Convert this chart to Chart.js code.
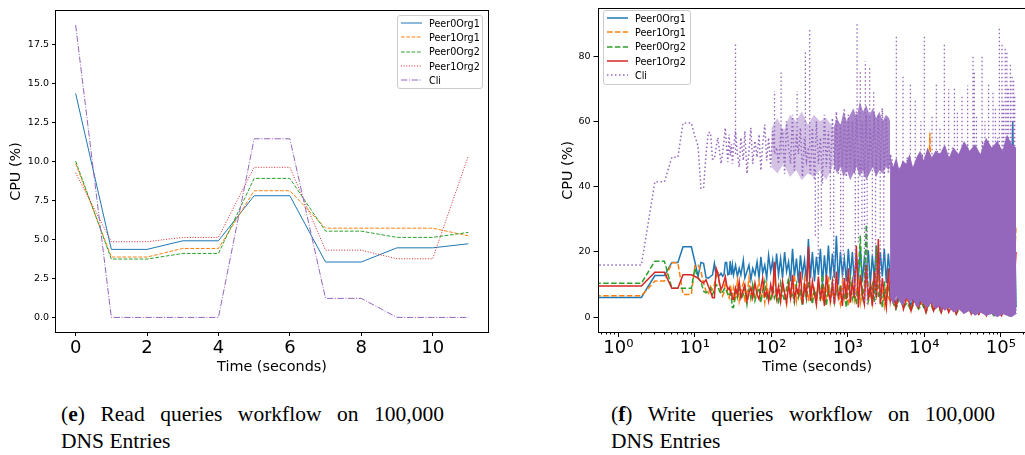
<!DOCTYPE html>
<html>
<head>
<meta charset="utf-8">
<script src="https://cdn.jsdelivr.net/npm/chart.js@4.4.1/dist/chart.umd.min.js"></script>
<style>
  html, body { margin: 0; padding: 0; width: 1025px; height: 455px; overflow: hidden; background: #fff; }
  .plot { position: absolute; }
  .legend { position: absolute; background: rgba(255,255,255,0.85); border: 1px solid #ccc; border-radius: 3px;
            font: 9.6px 'DejaVu Sans', sans-serif; color: #000; padding: 0 4px 0 3px; box-sizing: border-box; }
  .legend div { height: 14.3px; display: flex; align-items: center; white-space: nowrap; }
  .legend svg { width: 21px; height: 6px; margin-right: 7px; flex: none; }
  .caption { position: absolute; font: 21.5px 'Liberation Serif', serif; line-height: 27px; color: #000; }
  .caption .l1 { text-align: justify; text-align-last: justify; }
</style>
</head>
<body>
<div class="plot" style="left:0;top:0;width:500px;height:380px"><canvas id="readChart"></canvas></div>
<div class="plot" style="left:520px;top:0;width:530px;height:380px"><canvas id="writeChart"></canvas></div>
<div class="legend" id="readLegend" style="left:397px;top:15px;width:86px;height:74px"></div>
<div class="legend" id="writeLegend" style="left:603px;top:10px;width:88px;height:75px"></div>
<div class="caption" style="left:61px;top:401px;width:383px">
  <div class="l1">(<b>e</b>) Read queries workflow on 100,000</div>
  <div>DNS Entries</div>
</div>
<div class="caption" style="left:611px;top:401px;width:384px">
  <div class="l1">(<b>f</b>) Write queries workflow on 100,000</div>
  <div>DNS Entries</div>
</div>
<script>
const seriesNames = ['Peer0Org1', 'Peer1Org1', 'Peer0Org2', 'Peer1Org2', 'Cli'];
const seriesColors = ['#1f77b4', '#ff7f0e', '#2ca02c', '#d62728', '#9467bd'];

// (e) read workflow, one sample per second
const readTime = [0, 1, 2, 3, 4, 5, 6, 7, 8, 9, 10, 11];
const readPeer0Org1 = [14.36, 4.36, 4.36, 4.91, 4.91, 7.8, 7.8, 3.55, 3.55, 4.46, 4.46, 4.72];
const readPeer1Org1 = [9.87, 3.87, 3.87, 4.42, 4.42, 8.12, 8.12, 5.72, 5.72, 5.72, 5.72, 5.23];
const readPeer0Org2 = [10.02, 3.74, 3.74, 4.1, 4.1, 8.91, 8.91, 5.53, 5.53, 5.13, 5.13, 5.45];
const readPeer1Org2 = [9.27, 4.85, 4.85, 5.13, 5.13, 9.62, 9.62, 4.31, 4.31, 3.76, 3.76, 10.36];
const readCli = [18.74, 0, 0, 0, 0, 11.45, 11.45, 1.22, 1.22, 0, 0, 0];
const readXTicks = [0, 2, 4, 6, 8, 10];
const readYTicks = [0, 2.5, 5, 7.5, 10, 12.5, 15, 17.5];

// (f) write workflow, log time axis (first sample stands for t = 0)
const writeTime = [
  0.5, 1, 2, 3, 4, 5, 6, 7, 8, 9,
  10, 11, 12, 13, 14, 15, 16, 17, 18, 19,
  20, 21, 22, 23, 24, 25, 26, 27, 28, 29,
  30, 31,
  32, 34, 36, 38, 40, 43, 45, 48, 51, 54,
  57, 61, 65, 69, 73, 77, 82, 87, 92, 98,
  104, 110, 117, 124, 132, 140, 149, 158, 168, 178,
  189, 200, 213, 226, 240, 255, 271, 288, 305, 324,
  344, 366, 388, 412, 438, 465, 494, 524, 557, 591,
  628, 667, 708, 752, 799, 848, 900, 956, 1015, 1078,
  1145, 1216, 1291, 1371, 1456, 1546, 1642, 1744, 1852, 1967,
  2089, 2218, 2356, 2502, 2657, 2821, 2996, 3182, 3379, 3588,
  3800, 4250, 4760, 5330, 5970, 6690, 7490, 8390, 9400, 10500,
  11800, 13200, 14800, 16600, 18600, 20800, 23300, 26100, 29200, 32700,
  36700, 41100, 46000, 51500, 57700, 64600, 72400, 81100, 90800, 101700,
  113900, 127600, 142900, 158000
];
const writePeer0Org1 = [
  6.1, 6.1, 6.1, 12.8, 12.8, 16.8, 16.8, 21.6, 21.6, 21.6,
  17, 12.5, 16.8, 16.5, 12.2, 12, 12.5, 13, 16.5, 12.5,
  13, 12.8, 13.5, 12.6, 13, 16.8, 16.8, 13, 13.2, 17.2,
  13, 16,
  13, 16, 12.5, 15, 13, 17.5, 12, 14, 16, 11.5,
  15, 13, 17, 12, 18.5, 13.5, 16, 12, 19, 14,
  17.5, 11, 19.5, 13, 18, 12, 20, 14, 17, 11,
  21, 12.5, 18, 10.5, 19, 13, 17.5, 11, 24, 12,
  20, 11, 18.5, 13, 21, 10, 19, 12, 22, 11.5,
  19.5, 12, 25, 10, 20, 13, 18, 11, 21, 12.5,
  20, 10.5, 19, 12, 21.5, 11, 18, 13, 20.5, 10,
  19, 12, 22, 11, 20, 12.5, 21, 10.5, 19.5, 12,
  8, 4, 9, 5, 7, 3.5, 8, 4, 6, 3,
  7, 4, 5, 2.5, 6, 3, 5, 2, 4.5, 3,
  5, 2, 4, 1.5, 3.5, 2, 4, 1.5, 3, 2,
  3.5, 1.5, 60, 3
];
const writePeer1Org1 = [
  6.6, 6.6, 6.6, 11.1, 11.1, 16.7, 16.7, 7, 7, 7,
  15.8, 16, 14, 10.5, 8, 7, 9.5, 8.5, 10, 12.5,
  14, 10, 7.5, 6.5, 7.5, 11, 9, 7, 6, 10,
  8, 6.5,
  9, 6, 11, 5, 8, 10.5, 4.5, 7, 12, 6,
  9.5, 5.5, 8, 11, 6, 9, 4.5, 10, 7, 5,
  9, 12, 6, 8.5, 5, 10, 7, 4, 11, 6.5,
  8, 13, 5, 9, 6.5, 4, 12, 7, 5.5, 10,
  6, 8.5, 4, 11, 7, 5, 9.5, 6, 12.5, 4.5,
  8, 5.5, 10, 7, 4, 11, 6, 9, 3.5, 8,
  10.5, 5, 7.5, 12, 4.5, 9, 6, 13, 5, 8,
  4, 10, 6.5, 11.5, 5, 8, 3.5, 9.5, 6, 5,
  6, 3, 7, 4, 5.5, 2.5, 6, 3, 5, 3.5,
  56.6, 3, 4.5, 2, 5, 2.5, 4, 1.5, 3.5, 2,
  4, 1.5, 3, 1, 3, 1.5, 2.5, 1, 2.5, 1.5,
  3, 1, 2, 28
];
const writePeer0Org2 = [
  10.4, 10.4, 10.4, 17.2, 17.2, 8.9, 8.9, 8.9, 8.9, 8.9,
  15, 12, 11, 8, 7.5, 8, 9, 7, 8.5, 10,
  9.5, 8, 7.2, 7.8, 8.5, 9, 8, 7, 6.5, 7.5,
  6, 3,
  3, 8, 6, 10, 5.5, 7, 9, 4, 8.5, 6,
  10, 5, 7.5, 9, 4.5, 8, 11, 6, 7, 5,
  9.5, 6, 8, 4, 10.5, 7, 5, 9, 12, 6,
  7.5, 4.5, 10, 6, 8, 3.5, 9, 5.5, 11, 7,
  4, 8.5, 6, 10, 5, 13, 7, 3.5, 9, 6,
  11, 4.5, 8, 6.5, 10, 5, 7.5, 3, 9, 12,
  5.5, 8, 4, 14, 25, 6, 9, 28.4, 5, 7,
  10, 4.5, 22, 6, 8, 3, 11, 5, 9, 6,
  5, 2.5, 6, 3, 4.5, 2, 5, 2.5, 4, 1.5,
  4.5, 2, 3.5, 1.5, 4, 2, 3, 1, 3, 1.5,
  3.5, 1, 2.5, 1, 2.5, 1, 2, 0.5, 2, 1,
  2.5, 0.5, 1.5, 2
];
const writePeer1Org2 = [
  9.6, 9.6, 9.6, 13.8, 13.8, 8.9, 8.9, 13, 13, 13,
  12.5, 12, 11, 10.5, 11.5, 9.5, 8, 6, 6, 15,
  13.5, 10.5, 8.5, 9.5, 11, 12.5, 10, 8.5, 9, 8,
  7.5, 5.5,
  5.5, 9, 7, 11, 6, 8.5, 10, 5, 7.5, 9,
  6, 10.5, 7, 5.5, 9, 12, 6.5, 8, 5, 10,
  7, 17, 6, 9.5, 5, 11, 7.5, 4.5, 10, 6,
  13, 5.5, 9, 7, 14, 4, 10, 6.5, 21.6, 5,
  11, 7, 4, 12.5, 6, 9, 3.5, 13, 7.5, 5,
  10.5, 4, 14, 6, 8.5, 3.5, 12, 5.5, 15, 4.5,
  11, 6, 22, 3, 13, 7, 4, 16, 5.5, 10,
  3.5, 14, 6, 24, 4, 12, 7, 3, 15, 5,
  9, 3, 8, 2.5, 7, 2, 6.5, 3, 5.5, 1.5,
  6, 2, 5, 1.5, 5.5, 1.5, 4, 1, 4.5, 1.5,
  4, 1, 3.5, 1, 3, 0.5, 3, 1, 2.5, 0.5,
  2.5, 1, 2, 20
];
const writeCli = [
  16, 16, 16, 41.5, 41.5, 49, 49, 59.5, 59.5, 59.5,
  55.5, 52.5, 39.5, 39.5, 50, 56.6, 56.6, 48.5, 48.5, 52,
  55, 51, 47, 50, 54, 58, 52, 47.5, 56, 49.5,
  53, 47,
  52, 57, 50, 46, 55, 48, 57, 44, 51, 58,
  47, 54, 49, 56, 45, 53, 59, 48, 55, 46,
  57, 50, 52, 47, 55, 58, 44, 60, 52, 47,
  62, 45, 56, 50, 58, 43, 55, 48, 52, 44,
  58, 42, 60, 47, 55, 41, 62, 46, 57, 44,
  61, 45, 63, 44, 59, 46, 64, 43, 62, 45,
  60, 44, 63, 48, 45, 60, 43, 62, 44, 58,
  46, 63, 44, 62, 45, 64, 43, 61, 44, 50,
  48, 5, 46, 4, 49, 6, 47, 3, 50, 4,
  48, 3, 51, 2, 49, 3, 52, 1.5, 50, 2,
  53, 1, 51, 1.5, 54, 0.5, 52, 1, 55, 0.5,
  53, 1, 52, 1
];

// envelope of the Cli trace where it is too dense to see single samples
const cliBandATime = [100, 120, 145, 175, 210, 250, 300, 360, 430, 520, 650];
const cliBandATop = [58, 61, 57, 62, 60, 63, 59, 62, 60, 61, 58];
const cliBandABottom = [46, 44, 47, 43, 45, 42, 44, 43, 45, 42, 47];
const cliBandBTime = [650, 720, 800, 880, 970, 1070, 1180, 1300, 1430, 1580, 1740, 1920, 2120, 2340, 2580, 2850, 3150, 3450, 3560];
const cliBandBTop = [58, 61, 59, 63, 60, 62, 64, 61, 66, 63, 65, 62, 64, 61, 63, 60, 62, 61, 60];
const cliBandBBottom = [47, 44, 46, 43, 45, 42, 44, 46, 43, 45, 42, 44, 46, 43, 45, 44, 46, 45, 47];
const cliBandCTime = [3560, 3900, 4300, 4700, 5200, 5800, 6400, 7100, 7900, 8800, 9800, 11000, 12500, 14000, 16000,
  18500, 21000, 24000, 28000, 33000, 39000, 46000, 54000, 64000, 76000, 90000, 105000, 120000, 138000, 158000];
const cliBandCTop = [50, 46, 49, 45, 48, 47, 50, 46, 49, 51, 48, 52, 49, 51, 50, 53, 49, 52, 50, 54, 51, 53, 50, 55, 52, 54, 51, 56, 53, 52];
const cliBandCBottom = [6, 4, 6.5, 5, 3.5, 6, 4.5, 5.5, 3, 5, 4, 3, 4.5, 2.5, 3.5, 2, 3, 1.5, 2.5, 1, 2, 0.5, 1.5, 0.5, 1, 0, 1, 0.5, 0, 1];

// single Cli samples that stick out of the envelope (spikes and dips)
const cliSpikeTime = [34, 110, 134, 217, 278, 317, 376, 410, 450, 590,
  653, 805, 870, 1250, 1320, 1370, 1456, 1530, 1650, 1693,
  1790, 1928, 2090, 2177, 2300, 2650, 2950, 4305, 5263, 6561,
  7600, 9000, 10000, 12600, 14360, 16000, 18250, 20800, 24700, 27000,
  31100, 36800, 43200, 45000, 48000, 56800, 62000, 69200, 79000, 85000,
  95500, 103500, 108000, 114000, 120000, 125000, 133000, 140000, 147000, 152000];
const cliSpikeLow = [50, 52, 50, 52, 50, 52, 25, 18, 28, 27,
  5, 19, 8, 7, 55, 23, 55, 27, 5, 55,
  4, 55, 19, 55, 4, 6, 17, 45, 45, 45,
  45, 45, 45, 45, 45, 45, 45, 45, 45, 45,
  45, 45, 45, 45, 45, 45, 45, 45, 45, 45,
  45, 45, 45, 45, 45, 45, 45, 45, 45, 45];
const cliSpikeHigh = [84.3, 69.3, 75.4, 69.3, 81.2, 88.6, 45, 45, 45, 45,
  45, 45, 45, 48, 89.9, 48, 75.4, 48, 48, 78.4,
  48, 76.9, 48, 69.3, 48, 48, 48, 86.3, 73.7, 71.8,
  67, 60, 86.3, 62, 71.8, 58, 83.8, 69.8, 70, 63,
  68, 71, 80.2, 75, 62, 80, 60, 72, 69, 64,
  89.1, 83.5, 66, 83, 81, 70, 78, 74, 72.5, 68];

const writeMajorTicks = [1, 10, 100, 1000, 10000, 100000];
const writeTickLabels = ['10⁰', '10¹', '10²', '10³', '10⁴', '10⁵'];
const writeYTicks = [0, 20, 40, 60, 80];

// minor log ticks 2..9 of every decade inside the axis range
const writeXTicks = [];
[0.1, 1, 10, 100, 1000, 10000, 100000].forEach(b => {
  for (let k = 1; k < 10; k++) {
    const v = b * k;
    if (v >= 0.56 && v <= 2.8e5) writeXTicks.push({ value: v, major: k === 1 });
  }
});

Chart.defaults.font.family = "'DejaVu Sans', sans-serif";
Chart.defaults.color = '#000';

const readDash = [[], [3.7, 1.6], [3.7, 1.6], [1, 1.65], [6.4, 1.6, 1, 1.6]];
const writeDash = [[], [5.5, 2.4], [5.5, 2.4], [], [1.5, 2.5]];

// matplotlib draws the full axes box
const framePlugin = {
  id: 'frame',
  afterDatasetsDraw(chart) {
    const { ctx, chartArea: a } = chart;
    ctx.save();
    ctx.strokeStyle = '#000';
    ctx.lineWidth = 1;
    ctx.strokeRect(Math.round(a.left) - 0.5, Math.round(a.top) - 0.5, Math.round(a.right - a.left) + 1, Math.round(a.bottom - a.top) + 1);
    ctx.restore();
  }
};

function line(label, xs, ys, color, dash, width, order) {
  return {
    label, data: xs.map((x, i) => ({ x, y: ys[i] })),
    borderColor: color, backgroundColor: color, borderDash: dash, borderWidth: width,
    pointRadius: 0, tension: 0, fill: false, order
  };
}

// filled band between a top and a bottom envelope
function band(xs, top, bottom, color) {
  const upper = line('', xs, top, color, [], 0, 1);
  upper.fill = '+1';
  return [upper, line('', xs, bottom, 'rgba(0,0,0,0)', [], 0, 1)];
}

function axisTitle(text, padding) {
  return { display: true, text, color: '#000', font: { size: 14.4 }, padding };
}

const tickGrid = (len) => ({ drawOnChartArea: false, tickLength: len, tickColor: '#000' });

// (e) read chart
const readSeries = [readPeer0Org1, readPeer1Org1, readPeer0Org2, readPeer1Org2, readCli];
new Chart(document.getElementById('readChart'), {
  type: 'line',
  data: {
    datasets: readSeries.map((ys, i) => line(seriesNames[i], readTime, ys, seriesColors[i], readDash[i], 1, 5 - i))
  },
  options: {
    responsive: true, maintainAspectRatio: false, animation: false, events: [],
    layout: { padding: { left: 0, right: 12, top: 11, bottom: 0 } },
    plugins: { legend: { display: false }, tooltip: { enabled: false } },
    scales: {
      x: {
        type: 'linear', min: -0.55, max: 11.55,
        afterBuildTicks: s => { s.ticks = readXTicks.map(v => ({ value: v })); },
        afterFit: s => { s.height = 48; },
        grid: tickGrid(4), border: { display: false },
        ticks: { font: { size: 18 }, color: '#000', padding: 2, maxRotation: 0, autoSkip: false, callback: v => String(v) },
        title: axisTitle('Time (seconds)', { top: 0, bottom: 4.4 })
      },
      y: {
        min: -0.935, max: 19.64,
        afterBuildTicks: s => { s.ticks = readYTicks.map(v => ({ value: v })); },
        afterFit: s => { s.width = 56; },
        grid: tickGrid(4), border: { display: false },
        ticks: { font: { size: 9.5 }, color: '#000', padding: 3, callback: v => v.toFixed(1) },
        title: axisTitle('CPU (%)', { top: 8, bottom: 0 })
      }
    }
  },
  plugins: [framePlugin]
});

// (f) write chart
const writeSeries = [writePeer0Org1, writePeer1Org1, writePeer0Org2, writePeer1Org2, writeCli];
const writeSets = writeSeries.map((ys, i) => line(seriesNames[i], writeTime, ys, seriesColors[i], writeDash[i], 1.5, 6 - i));
const spikeData = [];
cliSpikeTime.forEach((t, i) => {
  spikeData.push({ x: t, y: cliSpikeLow[i] }, { x: t, y: cliSpikeHigh[i] }, { x: t, y: null });
});
const spikes = {
  label: '', data: spikeData, borderColor: '#9467bd', borderDash: [1.5, 2.5], borderWidth: 1.3,
  pointRadius: 0, tension: 0, fill: false, spanGaps: false, order: 0
};

new Chart(document.getElementById('writeChart'), {
  type: 'line',
  data: {
    datasets: [
      ...writeSets,
      ...band(cliBandATime, cliBandATop, cliBandABottom, 'rgba(148,103,189,0.4)'),
      ...band(cliBandBTime, cliBandBTop, cliBandBBottom, 'rgba(148,103,189,0.8)'),
      ...band(cliBandCTime, cliBandCTop, cliBandCBottom, '#9467bd'),
      spikes
    ]
  },
  options: {
    responsive: true, maintainAspectRatio: false, animation: false, events: [],
    layout: { padding: { left: 0, right: 14, top: 5, bottom: 0 } },
    plugins: { legend: { display: false }, tooltip: { enabled: false } },
    scales: {
      x: {
        type: 'logarithmic', min: 0.55, max: 2.88e5,
        afterBuildTicks: s => { s.ticks = writeXTicks.map(t => ({ value: t.value, major: t.major })); },
        afterFit: s => { s.height = 48; },
        grid: {
          drawOnChartArea: false, tickLength: 5, tickColor: '#000',
          tickBorderDash: c => (c.tick && c.tick.major ? [] : [2.5, 10])
        },
        border: { display: false },
        ticks: {
          font: { size: 18 }, color: '#000', padding: 1, maxRotation: 0, autoSkip: false,
          callback: v => { const i = writeMajorTicks.indexOf(v); return i >= 0 ? writeTickLabels[i] : ''; }
        },
        title: axisTitle('Time (seconds)', { top: 0, bottom: 4.4 })
      },
      y: {
        min: -4.5, max: 94.5,
        afterBuildTicks: s => { s.ticks = writeYTicks.map(v => ({ value: v })); },
        afterFit: s => { s.width = 78.5; },
        grid: tickGrid(5), border: { display: false },
        ticks: { font: { size: 9.5 }, color: '#000', padding: 3, callback: v => String(v) },
        title: axisTitle('CPU (%)', { top: 39.5, bottom: 0 })
      }
    }
  },
  plugins: [framePlugin]
});

// matplotlib style legends inside the axes
function buildLegend(id, dashes, width) {
  const box = document.getElementById(id);
  seriesNames.forEach((name, i) => {
    const row = document.createElement('div');
    row.innerHTML = '<svg viewBox="0 0 21 6"><line x1="0" y1="3" x2="21" y2="3" stroke="' + seriesColors[i] +
      '" stroke-width="' + width + '" stroke-dasharray="' + (dashes[i].length ? dashes[i].join(' ') : 'none') + '"/></svg>' +
      '<span>' + name + '</span>';
    box.appendChild(row);
  });
}
buildLegend('readLegend', readDash, 1);
buildLegend('writeLegend', writeDash, 1.5);
</script>
</body>
</html>
